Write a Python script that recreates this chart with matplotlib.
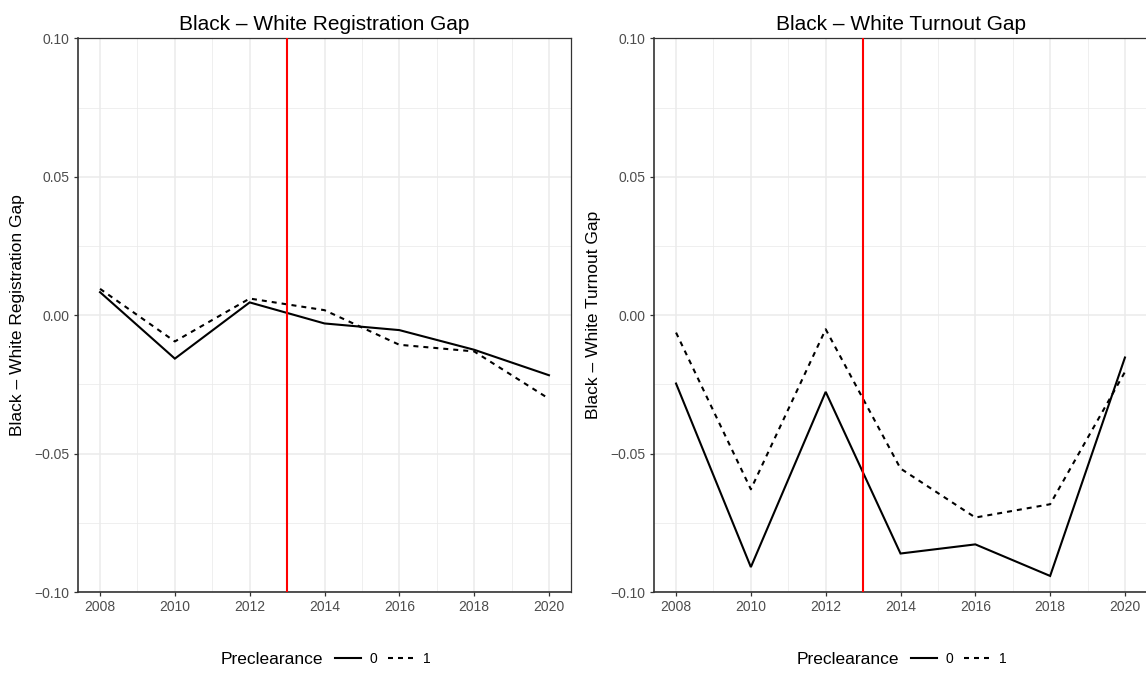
import numpy as np
import matplotlib
matplotlib.use("Agg")
import matplotlib.pyplot as plt
from matplotlib.lines import Line2D

plt.rcParams['font.family'] = ['Liberation Sans', 'DejaVu Sans']

# gap estimates by year, split by preclearance status
years = [2008, 2010, 2012, 2014, 2016, 2018, 2020]
reg_gap_0 = [0.0083, -0.0157, 0.0046, -0.0030, -0.0054, -0.0125, -0.0217]
reg_gap_1 = [0.0095, -0.0095, 0.0060, 0.0018, -0.0107, -0.0131, -0.0302]
turn_gap_0 = [-0.0247, -0.0910, -0.0277, -0.0861, -0.0828, -0.0942, -0.0153]
turn_gap_1 = [-0.0063, -0.0629, -0.0051, -0.0554, -0.0731, -0.0683, -0.0205]
cutoff_year = 2013  # Shelby County decision
legend_labels = ['0', '1']

W, H = 1146, 675
fig = plt.figure(figsize=(W / 100, H / 100), dpi=100)

GRID = '#EBEBEB'
DARK = '#333333'
TXT = '#4D4D4D'
LW = 1.5
DASH = (2.4, 2.4)


def px_axes(x0, y0, x1, y1):
    # pixel box (top-left origin) -> figure axes
    return fig.add_axes([x0 / W, 1 - y1 / H, (x1 - x0) / W, (y1 - y0) / H])


def draw_panel(ax, g0, g1, title, ylabel):
    ax.set_xlim(2007.4, 2020.6)
    ax.set_ylim(-0.10, 0.10)
    ax.set_xticks(np.arange(2008, 2021, 2))
    ax.set_xticks(np.arange(2009, 2021, 2), minor=True)
    ax.set_yticks([-0.10, -0.05, 0.00, 0.05, 0.10])
    ax.set_yticks([-0.075, -0.025, 0.025, 0.075], minor=True)
    ax.set_yticklabels(['\u22120.10', '\u22120.05', '0.00', '0.05', '0.10'])
    ax.grid(which='major', color=GRID, lw=1.1, zorder=0)
    ax.grid(which='minor', color=GRID, lw=0.55, zorder=0)
    ax.set_axisbelow(True)
    ax.tick_params(which='major', length=3.2, width=0.9, color=DARK,
                   labelsize=10, labelcolor=TXT, pad=2.5)
    ax.tick_params(which='minor', length=0)
    for s in ax.spines.values():
        s.set_color(DARK)
        s.set_linewidth(0.9)
    ax.spines['left'].set_linewidth(1.2)
    ax.spines['bottom'].set_linewidth(1.2)

    ax.plot(years, g0, color='black', lw=LW, solid_joinstyle='miter', zorder=3)
    l1, = ax.plot(years, g1, color='black', lw=LW, zorder=3)
    l1.set_dashes(DASH)
    ax.axvline(cutoff_year, color='#FF0000', lw=1.5, zorder=4)

    ax.set_title(title, fontsize=15, pad=6)
    ax.set_ylabel(ylabel, fontsize=12.5, labelpad=7)


def draw_legend(cx):
    fig.text((cx - 104) / W, 1 - 659 / H, 'Preclearance', fontsize=12.5,
             ha='left', va='center')
    h0 = Line2D([], [], color='black', lw=LW)
    h1 = Line2D([], [], color='black', lw=LW)
    h1.set_dashes(DASH)
    fig.legend([h0, h1], legend_labels, ncol=2, frameon=False, fontsize=10,
               loc='center left', bbox_to_anchor=((cx + 10) / W, 1 - 659 / H),
               handlelength=1.9, handletextpad=0.6, columnspacing=0.8,
               borderpad=0, borderaxespad=0)


ax1 = px_axes(77.6, 38.3, 571.4, 592)
draw_panel(ax1, reg_gap_0, reg_gap_1, 'Black \u2013 White Registration Gap',
           'Black \u2013 White Registration Gap')
draw_legend(324.5)

ax2 = px_axes(653.6, 38.3, 1147.4, 592)
draw_panel(ax2, turn_gap_0, turn_gap_1, 'Black \u2013 White Turnout Gap',
           'Black \u2013 White Turnout Gap')
draw_legend(900.5)

fig.savefig('out.png', dpi=100)
